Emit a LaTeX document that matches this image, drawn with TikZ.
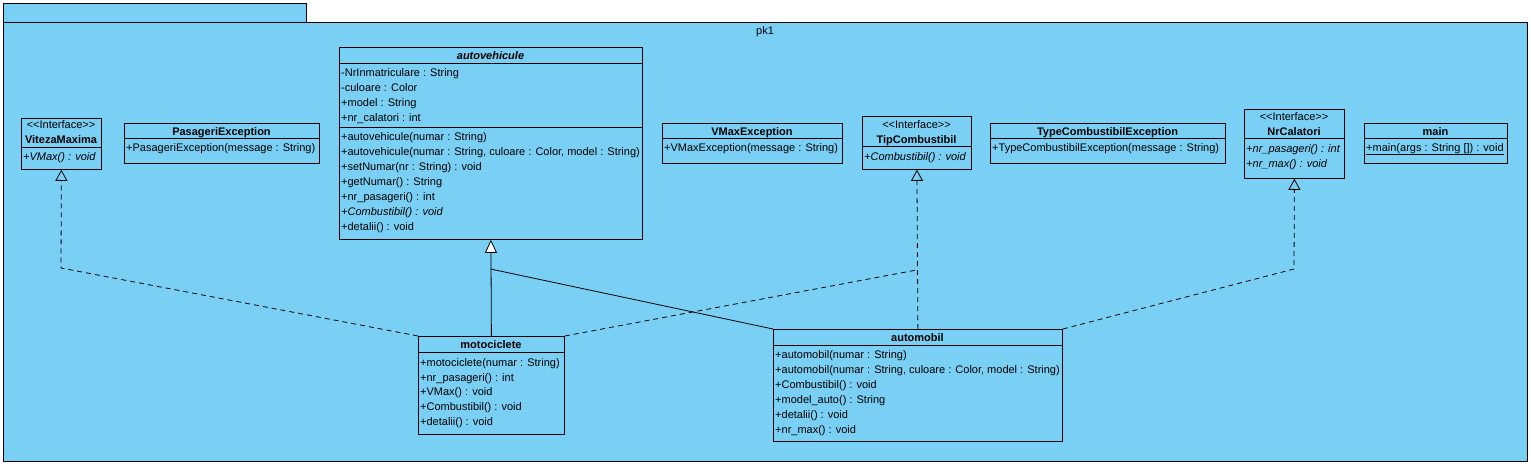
\documentclass[tikz,border=0pt]{standalone}
\usepackage{fontspec}
\setmainfont{Liberation Sans}
\usetikzlibrary{arrows.meta}
\definecolor{umlblue}{RGB}{122,207,245}
\newcommand{\stereo}[1]{<{}<#1>{}>}
\begin{document}
\begin{tikzpicture}[x=1pt,y=-1pt,
  box/.style={draw, line width=0.8pt, fill=umlblue, inner sep=0pt, anchor=north west},
  txt/.style={anchor=west, inner sep=0pt, text height=8pt, text depth=2pt, font=\fontsize{11}{13}\selectfont},
  itx/.style={txt, font=\fontsize{11}{13}\selectfont\itshape},
  ttl/.style={anchor=center, inner sep=0pt, text height=8pt, text depth=2pt, font=\fontsize{11}{13}\selectfont\bfseries},
  ster/.style={anchor=center, inner sep=0pt, text height=8pt, text depth=2pt, font=\fontsize{11}{13}\selectfont},
  sep/.style={line width=0.8pt},
  dashline/.style={line width=0.8pt, dash pattern=on 5pt off 4pt},
  realize/.style={dashline, -{Triangle[open, width=12pt, length=11pt, line width=0.8pt]}},
  assoc/.style={line width=0.8pt},
  general/.style={line width=0.8pt, -{Triangle[open, fill=white, width=12pt, length=13pt, line width=0.8pt]}}]
\fill[white] (0,0) rectangle (1531,466);
\useasboundingbox (0,0) rectangle (1531,466);
% package
\node[box, minimum width=303, minimum height=19] (tab) at (3,3) {};
\node[box, minimum width=1524, minimum height=439] (pkg) at (3,22) {};
\node[ster] (pkname) at (765,31) {pk1};

% VitezaMaxima
\node[box, minimum width=80, minimum height=51] (vit) at (21,118) {};
\node[ster] (vits) at (61,125) {\stereo{Interface}};
\node[ttl] (vitn) at (61,140) {VitezaMaxima};
\draw[sep] (21,147) -- (101,147);
\node[itx] (vito) at (23,157) {+VMax() : void};

% PasageriException
\node[box, minimum width=195, minimum height=40] (pex) at (124,123) {};
\node[ttl] (pexn) at (221.5,132) {PasageriException};
\draw[sep] (124,138) -- (319,138);
\node[txt] (pexo) at (126,148) {+PasageriException(message : String)};

% autovehicule
\node[box, minimum width=303, minimum height=192] (auto) at (339,47) {};
\node[ttl, font=\fontsize{11}{13}\selectfont\bfseries\itshape] (auton) at (490.5,56) {autovehicule};
\draw[sep] (339,63) -- (642,63);
\node[txt] (a1) at (341,73) {-NrInmatriculare : String};
\node[txt] (a2) at (341,88) {-culoare : Color};
\node[txt] (a3) at (341,103) {+model : String};
\node[txt] (a4) at (341,118) {+nr\_calatori : int};
\draw[sep] (339,127) -- (642,127);
\node[txt] (o1) at (341,137) {+autovehicule(numar : String)};
\node[txt] (o2) at (341,152) {+autovehicule(numar : String, culoare : Color, model : String)};
\node[txt] (o3) at (341,167) {+setNumar(nr : String) : void};
\node[txt] (o4) at (341,182) {+getNumar() : String};
\node[txt] (o5) at (341,197) {+nr\_pasageri() : int};
\node[itx] (o6) at (341,212) {+Combustibil() : void};
\node[txt] (o7) at (341,227) {+detalii() : void};

% VMaxException
\node[box, minimum width=180, minimum height=40] (vex) at (662,123) {};
\node[ttl] (vexn) at (752,132) {VMaxException};
\draw[sep] (662,138) -- (842,138);
\node[txt] (vexo) at (664,148) {+VMaxException(message : String)};

% TipCombustibil
\node[box, minimum width=109, minimum height=53] (tip) at (862,116) {};
\node[ster] (tips) at (916.5,125) {\stereo{Interface}};
\node[ttl] (tipn) at (916.5,140) {TipCombustibil};
\draw[sep] (862,146) -- (971,146);
\node[itx] (tipo) at (864,157) {+Combustibil() : void};

% TypeCombustibilException
\node[box, minimum width=235, minimum height=40] (tex) at (990,123) {};
\node[ttl] (texn) at (1107.5,132) {TypeCombustibilException};
\draw[sep] (990,138) -- (1225,138);
\node[txt] (texo) at (992,148) {+TypeCombustibilException(message : String)};

% NrCalatori
\node[box, minimum width=100, minimum height=69] (nrc) at (1244,109) {};
\node[ster] (nrcs) at (1294,117) {\stereo{Interface}};
\node[ttl] (nrcn) at (1294,132) {NrCalatori};
\draw[sep] (1244,138) -- (1344,138);
\node[itx] (nrc1) at (1246,149) {+nr\_pasageri() : int};
\node[itx] (nrc2) at (1246,164) {+nr\_max() : void};

% main
\node[box, minimum width=143, minimum height=40] (mn) at (1364,123) {};
\node[ttl] (mnn) at (1435.5,132) {main};
\draw[sep] (1364,138) -- (1507,138);
\node[txt] (mno) at (1366,148) {\underline{+main(args : String []) : void}};

% motociclete
\node[box, minimum width=146, minimum height=98] (moto) at (418,336) {};
\node[ttl] (moton) at (491,345) {motociclete};
\draw[sep] (418,352) -- (564,352);
\node[txt] (m1) at (420,363) {+motociclete(numar : String)};
\node[txt] (m2) at (420,378) {+nr\_pasageri() : int};
\node[txt] (m3) at (420,392) {+VMax() : void};
\node[txt] (m4) at (420,407) {+Combustibil() : void};
\node[txt] (m5) at (420,422) {+detalii() : void};

% automobil
\node[box, minimum width=289, minimum height=112] (car) at (773,329) {};
\node[ttl] (carn) at (917.5,338) {automobil};
\draw[sep] (773,345) -- (1062,345);
\node[txt] (c1) at (775,355) {+automobil(numar : String)};
\node[txt] (c2) at (775,370) {+automobil(numar : String, culoare : Color, model : String)};
\node[txt] (c3) at (775,385) {+Combustibil() : void};
\node[txt] (c4) at (775,400) {+model\_auto() : String};
\node[txt] (c5) at (775,415) {+detalii() : void};
\node[txt] (c6) at (775,430) {+nr\_max() : void};

% connectors
\coordinate (j1) at (490.5,269);
\coordinate (b1) at (61,268);
\coordinate (b2) at (916.5,270);
\coordinate (b3) at (1294,269);
\draw[general] (moto.north) -- (auto.south);
\draw[assoc] (car.north west) -- (j1);
\draw[realize] (moto.north west) -- (b1) -- (vit.south);
\draw[dashline] (moto.north east) -- (b2);
\draw[realize] (car.north) -- (tip.south);
\draw[realize] (car.north east) -- (b3) -- (nrc.south);
\end{tikzpicture}
\end{document}
